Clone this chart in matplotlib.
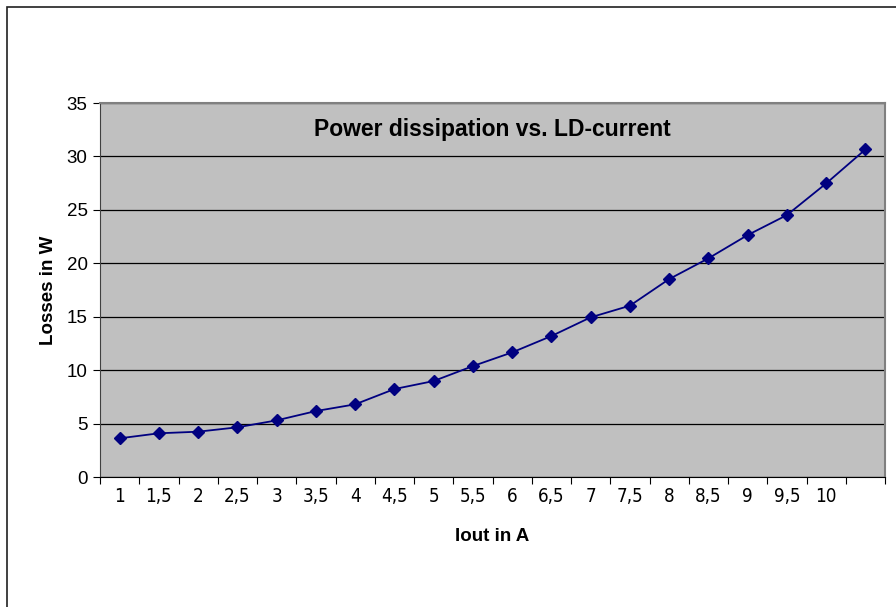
import matplotlib.pyplot as plt
from matplotlib.patches import Rectangle

plt.rcParams['font.family'] = ['Liberation Sans', 'DejaVu Sans']

currents = ['1', '1,5', '2', '2,5', '3', '3,5', '4', '4,5', '5', '5,5',
            '6', '6,5', '7', '7,5', '8', '8,5', '9', '9,5', '10', '']
losses = [3.62, 4.09, 4.24, 4.65, 5.30, 6.17, 6.80, 8.23, 8.98, 10.38,
          11.66, 13.19, 14.94, 16.03, 18.52, 20.46, 22.64, 24.51, 27.47, 30.65]

fig = plt.figure(figsize=(8.96, 6.07), dpi=100)
ax = fig.add_axes([100 / 896, 130 / 607, 785 / 896, 374 / 607])
ax.set_facecolor('#c0c0c0')

pos = [i + 0.5 for i in range(len(losses))]
ax.plot(pos, losses, color='#000080', marker='D', markersize=6.5, linewidth=1.3)

ax.set_xlim(0, len(losses))
ax.set_ylim(0, 35)
ax.set_yticks(range(0, 36, 5))
ax.grid(axis='y', color='black', linewidth=0.9)
ax.set_axisbelow(True)

# ticks between categories, labels at centres
ax.set_xticks(range(len(losses) + 1))
ax.set_xticklabels([])
ax.set_xticks(pos, minor=True)
ax.set_xticklabels(currents, minor=True)
ax.tick_params(axis='x', which='major', length=5, direction='out', color='black')
ax.tick_params(axis='x', which='minor', length=0, pad=18, labelsize=13.5)
ax.tick_params(axis='y', length=5, direction='out', labelsize=13.5, pad=4)
for lab in ax.get_xticklabels(minor=True):
    lab.set_verticalalignment('baseline')
    lab.set_family('DejaVu Sans')
    lab.set_fontstretch('condensed')

for s in ['top', 'right']:
    ax.spines[s].set_color('#808080')
    ax.spines[s].set_linewidth(1.5)
ax.spines['left'].set_color('#404040')
ax.spines['bottom'].set_color('black')

ax.text(0.5, 0.93, 'Power dissipation vs. LD-current', transform=ax.transAxes,
        ha='center', va='center', fontsize=16.5, fontweight='bold')
ax.set_xlabel('Iout in A', fontsize=13.5, fontweight='bold', labelpad=16)
ax.set_ylabel('Losses in W', fontsize=13.5, fontweight='bold', labelpad=7)

fig.add_artist(Rectangle((6.5 / 896, -0.1), 1.2, 1.1 - 6.5 / 607,
                         transform=fig.transFigure, fill=False,
                         edgecolor='#202020', linewidth=1.2))

plt.savefig('out.png')
